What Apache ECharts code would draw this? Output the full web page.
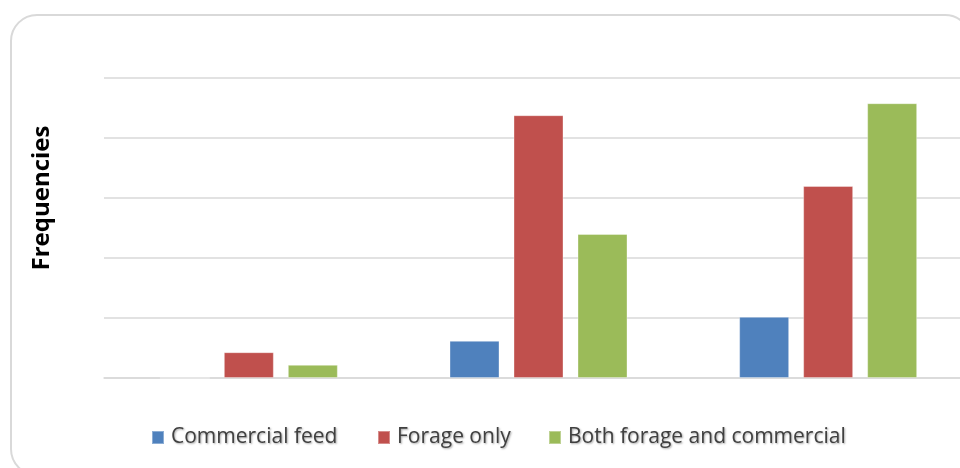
<!DOCTYPE html>
<html>
<head>
<meta charset="utf-8">
<script src="https://cdn.jsdelivr.net/npm/echarts@6/dist/echarts.min.js"></script>
<style>
  html, body { margin: 0; padding: 0; background: #ffffff; }
  #chart { width: 960px; height: 468px; }
</style>
</head>
<body>
<div id="chart"></div>
<script>
// Feeding practice groups and frequency counts
const categories = ['Group 1', 'Group 2', 'Group 3'];
const seriesNames = ['Commercial feed', 'Forage only', 'Both forage and commercial'];
const commercialFeed = [0, 6.2, 10.2];
const forageOnly = [4.3, 43.8, 32];
const bothForageCommercial = [2.2, 24, 45.8];
const colors = ['#4F81BD', '#C0504D', '#9BBB59'];
const legendLefts = [151, 377, 548];

const chart = echarts.init(document.getElementById('chart'), null, { renderer: 'canvas' });

const values = [commercialFeed, forageOnly, bothForageCommercial];

const legendText = {
  fontFamily: 'Open Sans',
  fontSize: 21,
  color: '#404040',
  padding: [0, 0, 0, 2],
  textShadowColor: 'rgba(0,0,0,0.35)',
  textShadowBlur: 2,
  textShadowOffsetX: 1,
  textShadowOffsetY: 1
};

chart.setOption({
  backgroundColor: '#ffffff',
  animation: false,
  color: colors,
  graphic: [
    {
      type: 'rect',
      shape: { x: 11, y: 15, width: 960, height: 460, r: 26 },
      style: { fill: 'none', stroke: '#d9d9d9', lineWidth: 2 },
      z: -1
    },
    {
      type: 'text',
      x: 42,
      y: 198,
      rotation: Math.PI / 2,
      style: {
        text: 'Frequencies',
        font: 'bold 24px "Open Sans"',
        fill: '#000000',
        align: 'center',
        verticalAlign: 'middle'
      }
    }
  ],
  legend: seriesNames.map((name, i) => ({
    data: [name],
    left: legendLefts[i],
    top: 427,
    padding: 0,
    itemWidth: 12,
    itemHeight: 13,
    icon: 'rect',
    textStyle: legendText
  })),
  grid: { left: 104, width: 869, top: 78, bottom: 90, outerBoundsMode: 'none', containLabel: false },
  xAxis: {
    type: 'category',
    data: categories,
    axisLine: { lineStyle: { color: '#d9d9d9', width: 1.5 } },
    axisTick: { show: false },
    axisLabel: { show: false }
  },
  yAxis: {
    type: 'value',
    min: 0,
    max: 50,
    interval: 10,
    axisLine: { show: false },
    axisTick: { show: false },
    axisLabel: { show: false },
    splitLine: { lineStyle: { color: '#d9d9d9', width: 1.5 } }
  },
  series: seriesNames.map((name, i) => ({
    name: name,
    type: 'bar',
    data: values[i],
    barWidth: 50,
    barGap: '28%',
    itemStyle: { color: colors[i], borderColor: 'rgba(255,255,255,0.35)', borderWidth: 1 }
  }))
});
</script>
</body>
</html>
